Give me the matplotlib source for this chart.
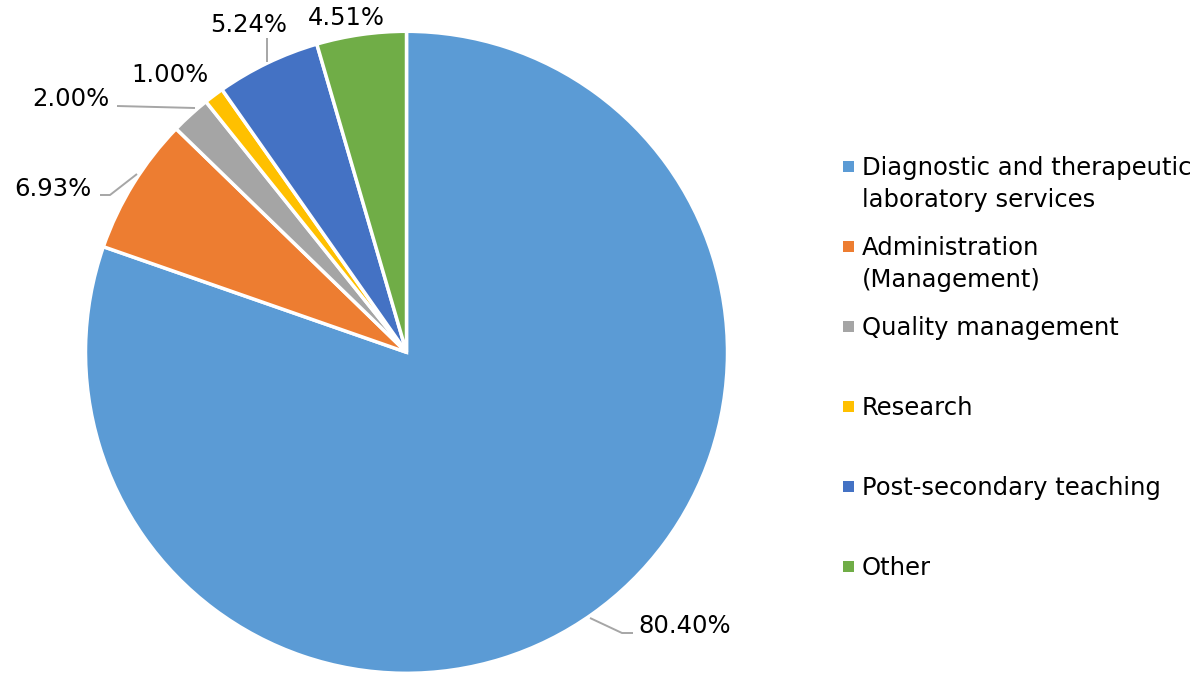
import matplotlib
matplotlib.use("Agg")
import matplotlib.pyplot as plt
import numpy as np
from matplotlib.patches import Rectangle

categories = ["Diagnostic and therapeutic\nlaboratory services",
              "Administration\n(Management)",
              "Quality management",
              "Research",
              "Post-secondary teaching",
              "Other"]
values = [80.40, 6.93, 2.00, 1.00, 5.24, 4.51]
value_labels = ["80.40%", "6.93%", "2.00%", "1.00%", "5.24%", "4.51%"]
colors = ["#5B9BD5", "#ED7D31", "#A5A5A5", "#FFC000", "#4472C4", "#70AD47"]

plt.rcParams['font.family'] = ['DejaVu Sans']
W, H = 1204, 674
fig = plt.figure(figsize=(W / 100, H / 100), dpi=100)

# pie axes: centre (406,352) px, radius 321 px
cx, cy, r = 406.5, 352.3, 321
ax = fig.add_axes([(cx - r) / W, (H - cy - r) / H, 2 * r / W, 2 * r / H])
wedges, _ = ax.pie(values, colors=colors, startangle=90, counterclock=False,
                   radius=1.0, wedgeprops=dict(edgecolor="white", linewidth=2.5))
ax.set_xlim(-1, 1)
ax.set_ylim(-1, 1)
ax.set_aspect("equal")
ax.axis("off")

def px(x, y):
    """pixel -> data coords of pie axes"""
    return ((x - cx) / r, (cy - y) / r)

fs = 17.5
lab_cfg = [
    dict(text=(638, 633), ha="left", leader=[(590, 618), (622, 633), (633, 633)]),
    dict(text=(92, 196), ha="right", leader=[(137, 174), (110, 195), (100, 195)]),
    dict(text=(109, 106), ha="right", leader=[(195, 108), (117, 106)]),
    dict(text=(209, 82), ha="right", leader=None),
    dict(text=(249, 32), ha="center", leader=[(266.5, 62), (266.5, 38)]),
    dict(text=(346, 25), ha="center", leader=None),
]
for lab, cfg in zip(value_labels, lab_cfg):
    if cfg["leader"]:
        pts = [px(*p) for p in cfg["leader"]]
        ax.plot([p[0] for p in pts], [p[1] for p in pts], color="#A6A6A6",
                lw=1.4, clip_on=False, solid_capstyle="butt")
    tx, ty = px(*cfg["text"])
    ax.text(tx, ty, lab, ha=cfg["ha"], va="baseline", fontsize=fs,
            color="#000000", clip_on=False)

# legend drawn manually
leg_y = [166, 246, 326, 406, 486, 566]
for cat, col, y in zip(categories, colors, leg_y):
    fig.patches.append(Rectangle((843 / W, (H - y - 5.5) / H), 11 / W, 11 / H,
                                 transform=fig.transFigure, facecolor=col,
                                 edgecolor="none"))
    for i, line in enumerate(cat.split("\n")):
        fig.text(862 / W, (H - (y + 9 + 32 * i)) / H, line, ha="left",
                 va="baseline", fontsize=fs, color="#000000")

fig.savefig("out.png", dpi=100, facecolor="white")
